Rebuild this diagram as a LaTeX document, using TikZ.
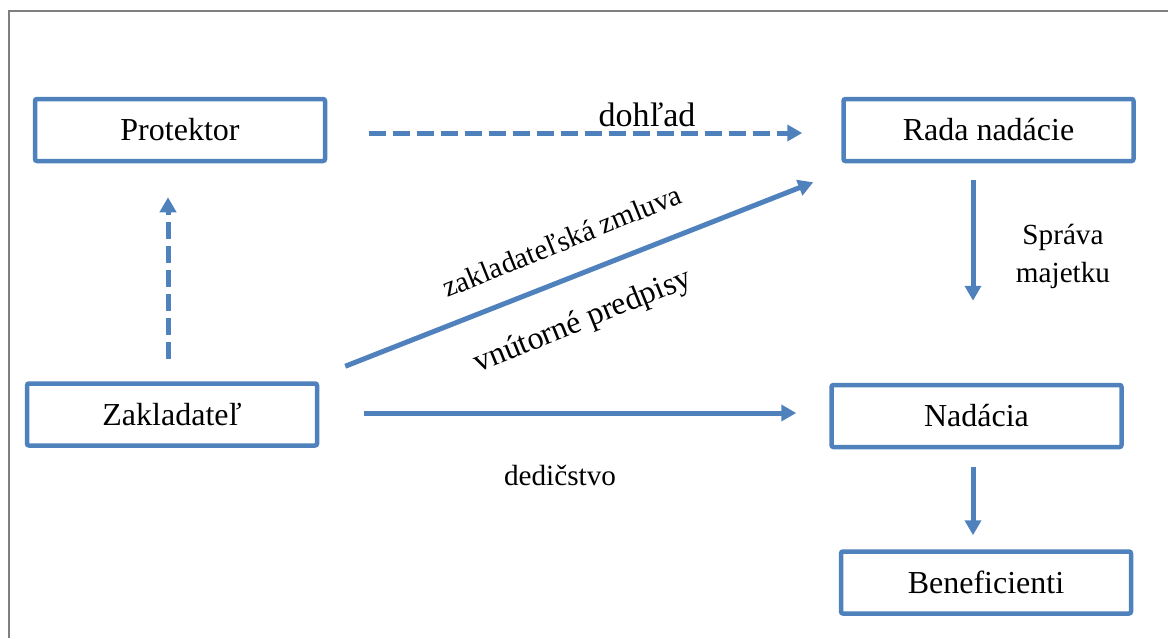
\documentclass[tikz,border=0pt]{standalone}
\usepackage{fontspec}
\setmainfont{Liberation Serif}
\usetikzlibrary{arrows.meta,calc}
\definecolor{ob}{HTML}{4F81BD}
\definecolor{fr}{HTML}{7F7F7F}
\begin{document}
\begin{tikzpicture}[x=0.5pt,y=-0.5pt,
  boxnode/.style={draw=ob, line width=2.25pt, rounded corners=1pt, minimum width=145pt, minimum height=31pt, inner sep=0pt, font=\fontsize{16}{19}\selectfont},
  conn/.style={draw=ob, line width=2.5pt, -{Triangle[length=7.5pt,width=8pt]}},
  dconn/.style={conn, dash pattern=on 8.5pt off 3.5pt},
  lbl/.style={font=\fontsize{14.6}{19}\selectfont, inner sep=0pt, align=center}]
\useasboundingbox (0,0) rectangle (1168,638);
\draw[fr, line width=0.75pt] (1168,11) -- (9,11) -- (9,638);

\node[boxnode] (prot) at (180,130) {Protektor};
\node[boxnode] (rada) at (988.5,130) {Rada nadácie};
\node[boxnode] (zakl) at (172,414.5) {Zakladateľ};
\node[boxnode] (nad) at (976.5,416) {Nadácia};
\node[boxnode] (ben) at (986,582.5) {Beneficienti};

% dohľad
\draw[dconn, shorten <=21pt, shorten >=19.5pt] ([yshift=-1.5pt]prot.east) -- ([yshift=-1.5pt]prot.east -| rada.west);
\node[lbl, font=\fontsize{17}{20}\selectfont] (dohlad) at (647,115) {dohľad};

% Zakladateľ -> Protektor
\draw[dconn, shorten <=11pt, shorten >=17pt] ([xshift=-2pt]zakl.north) -- ([xshift=-2pt]zakl.north |- prot.south);

% diagonal
\draw[conn] ([xshift=13pt,yshift=7.5pt]zakl.north east) -- ([xshift=-14pt,yshift=-9.5pt]rada.south west);
\node[lbl, rotate=22] (zml) at (562,241) {zakladateľská zmluva};
\node[lbl, rotate=22, font=\fontsize{16}{19}\selectfont] (vnp) at (583,322) {vnútorné predpisy};

% Zakladateľ -> Nadácia
\draw[conn, shorten <=22.5pt, shorten >=16.5pt] ([yshift=0.75pt]zakl.east) -- ([yshift=0.75pt]zakl.east -| nad.west);
\node[lbl] (ded) at (560,475) {dedičstvo};

% Rada -> Nadácia
\draw[conn, shorten <=8.5pt, shorten >=41pt] ([xshift=-7.75pt]rada.south) -- ([xshift=-7.75pt]rada.south |- nad.north);
\node[lbl] (sprava) at (1063,256) {Správa\\majetku};

% Nadácia -> Beneficienti
\draw[conn, shorten <=9pt, shorten >=7pt] ([xshift=-1.75pt]nad.south) -- ([xshift=-1.75pt]nad.south |- ben.north);
\end{tikzpicture}
\end{document}
